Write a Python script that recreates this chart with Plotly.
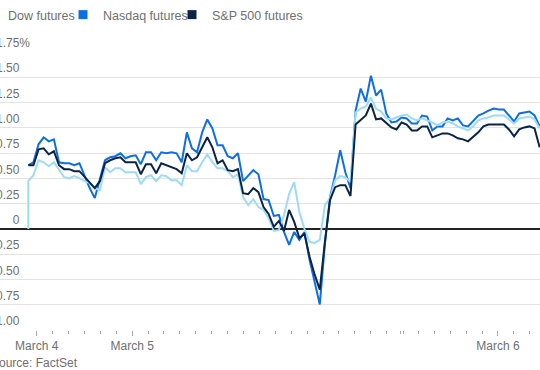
import plotly.graph_objects as go

# ---- data (percent change vs. prior close), time in hours from March 4, 6pm ----
step_h = 0.3216
hours = [round(-0.533 + step_h * i, 4) for i in range(101)]
dow_hours = [hours[0]] + hours  # Dow line opens from its flat 0% reference point

dow = [0.0, 0.472, 0.531, 0.679, 0.659, 0.620, 0.659, 0.581, 0.512, 0.502, 0.522,
       0.502, 0.472, 0.453, 0.404, 0.384, 0.610, 0.561, 0.600, 0.600, 0.561,
       0.561, 0.561, 0.443, 0.512, 0.531, 0.472, 0.531, 0.522, 0.482, 0.482,
       0.433, 0.630, 0.571, 0.571, 0.659, 0.738, 0.659, 0.600, 0.600, 0.571,
       0.512, 0.541, 0.315, 0.236, 0.295, 0.217, 0.187, 0.108, -0.020, -0.010,
       0.138, 0.344, 0.463, 0.167, 0.000, -0.128, -0.138, -0.108, 0.236, 0.305,
       0.482, 0.522, 0.512, 0.463, 1.152, 1.191, 1.211, 1.299, 1.191, 1.161,
       1.093, 1.083, 1.102, 1.122, 1.132, 1.093, 1.073, 1.093, 1.073, 1.053,
       1.024, 1.053, 1.063, 1.043, 1.014, 0.994, 0.974, 1.014, 1.073, 1.093,
       1.102, 1.122, 1.122, 1.122, 1.083, 1.043, 1.093, 1.102, 1.112, 1.083, 0.994]

nasdaq = [0.630, 0.659, 0.837, 0.906, 0.866, 0.886, 0.659, 0.650, 0.650, 0.630,
          0.650, 0.531, 0.404, 0.305, 0.492, 0.679, 0.709, 0.719, 0.748, 0.699,
          0.719, 0.728, 0.640, 0.758, 0.758, 0.679, 0.758, 0.748, 0.758, 0.748,
          0.659, 0.955, 0.797, 0.758, 0.955, 1.083, 0.994, 0.827, 0.827, 0.719,
          0.699, 0.748, 0.472, 0.531, 0.581, 0.541, 0.295, 0.285, 0.128, 0.138,
          -0.030, -0.157, -0.030, -0.108, -0.030, -0.305, -0.541, -0.748, -0.148, 0.315,
          0.531, 0.778, 0.561, 0.404, 1.171, 1.388, 1.260, 1.516, 1.320, 1.378,
          1.142, 1.053, 1.063, 1.102, 1.093, 1.043, 1.043, 1.122, 1.112, 0.974,
          1.014, 1.014, 1.093, 1.073, 1.093, 1.024, 1.014, 1.063, 1.122, 1.142,
          1.171, 1.191, 1.181, 1.181, 1.122, 1.063, 1.142, 1.152, 1.161, 1.122, 1.014]

sp500 = [0.630, 0.630, 0.787, 0.797, 0.738, 0.768, 0.630, 0.591, 0.591, 0.571,
         0.571, 0.512, 0.453, 0.404, 0.472, 0.650, 0.679, 0.699, 0.709, 0.659,
         0.659, 0.659, 0.541, 0.640, 0.640, 0.551, 0.650, 0.630, 0.610, 0.591,
         0.551, 0.748, 0.679, 0.709, 0.807, 0.906, 0.807, 0.650, 0.679, 0.581,
         0.571, 0.591, 0.354, 0.344, 0.404, 0.364, 0.217, 0.148, 0.020, 0.079,
         -0.020, 0.187, 0.069, -0.089, -0.049, -0.276, -0.453, -0.600, -0.128, 0.285,
         0.413, 0.433, 0.433, 0.325, 1.033, 1.073, 1.122, 1.240, 1.083, 1.093,
         1.053, 1.004, 0.984, 1.053, 1.033, 0.974, 0.974, 1.014, 1.014, 0.906,
         0.925, 0.945, 0.945, 0.925, 0.896, 0.886, 0.866, 0.906, 0.955, 1.014,
         1.033, 1.033, 1.033, 1.033, 0.984, 0.915, 0.984, 1.004, 1.014, 0.994, 0.807]

series_names = ["Dow futures", "Nasdaq futures", "S&P 500 futures"]
series_colors = ["#9ddbf8", "#0d6fe3", "#0b2446"]

# x-axis ticks (hours from March 4, 6pm); the 5pm-6pm break is marked by a double tick
date_tick_hours = [0, 6, 29]
date_tick_labels = ["March 4", "March 5", "March 6"]
hour_ticks = [h for h in range(1, 32) if h not in (6, 23, 29)] + [22.9, 23.05]

# y-axis ticks (numbers right-aligned; the % sign hangs past them on the top label)
y_ticks = [-1.0, -0.75, -0.5, -0.25, 0, 0.25, 0.5, 0.75, 1.0, 1.25, 1.5, 1.75]
y_numbers = ["−1.00", "−0.75", "−0.50", "−0.25", "0", "0.25", "0.50", "0.75",
             "1.00", "1.25", "1.50", "1.75"]
HIDDEN_PCT = "<span style='color:rgba(0,0,0,0)'>%</span>"
y_labels = [n + ("%" if v == max(y_ticks) else HIDDEN_PCT)
            for n, v in zip(y_numbers, y_ticks)]

TXT = "#707070"
FONT = "Liberation Sans, Arial, Helvetica, sans-serif"
W, H = 540, 370
ML, MT, MB = 0, 52, 40

fig = go.Figure()

# lines (Nasdaq drawn first, then Dow, then S&P on top)
fig.add_trace(go.Scatter(x=hours, y=nasdaq, mode="lines", showlegend=False,
                         line=dict(color=series_colors[1], width=2)))
fig.add_trace(go.Scatter(x=dow_hours, y=dow, mode="lines", showlegend=False,
                         line=dict(color=series_colors[0], width=2)))
fig.add_trace(go.Scatter(x=hours, y=sp500, mode="lines", showlegend=False,
                         line=dict(color=series_colors[2], width=2)))

# legend entries with square swatches, one legend per entry for exact placement
legend_keys = ["legend", "legend2", "legend3"]
for name, color, key in zip(series_names, series_colors, legend_keys):
    fig.add_trace(go.Scatter(x=[None], y=[None], mode="markers", name=name,
                             legend=key,
                             marker=dict(symbol="square", size=9, color=color)))

plot_h = H - MT - MB
def ypaper(px):
    return (H - MB - px) / plot_h

text_starts = [8, 103, 212]
leg_common = dict(orientation="h", xanchor="left", yanchor="middle",
                  y=ypaper(15), bgcolor="rgba(0,0,0,0)", borderwidth=0,
                  font=dict(family=FONT, size=12.5, color=TXT))

fig.update_layout(
    template="none",
    width=W, height=H,
    margin=dict(l=ML, r=0, t=MT, b=MB, pad=0, autoexpand=False),
    paper_bgcolor="white", plot_bgcolor="white",
    font=dict(family=FONT, size=12, color=TXT),
    legend=dict(x=(text_starts[0] - 40) / W, **leg_common),
    legend2=dict(x=(text_starts[1] - 40) / W, **leg_common),
    legend3=dict(x=(text_starts[2] - 40) / W, **leg_common),
    xaxis=dict(range=[-2.314, 31.648], showgrid=False, zeroline=False,
               showline=False, tickmode="array", tickvals=date_tick_hours,
               ticktext=date_tick_labels, ticks="outside", ticklen=5,
               tickwidth=1, tickcolor="#a8a8a8", automargin=False,
               tickfont=dict(family=FONT, size=12, color=TXT),
               minor=dict(tickmode="array", tickvals=hour_ticks, ticks="outside",
                          ticklen=3, tickwidth=1, tickcolor="#a8a8a8",
                          showgrid=False)),
    yaxis=dict(range=[-1.0, 1.75], tickmode="array", tickvals=y_ticks,
               ticktext=y_labels, showgrid=True, gridcolor="#e3e3e3",
               gridwidth=1, zeroline=True, zerolinecolor="#222222",
               zerolinewidth=1.5, showline=False, ticks="", automargin=False,
               ticklabelstandoff=-31, ticklabelshift=-9,
               tickfont=dict(family=FONT, size=12, color=TXT)),
    annotations=[dict(text="Source: FactSet", xref="paper", yref="paper",
                      x=-11 / W, y=ypaper(363), xanchor="left", yanchor="middle",
                      showarrow=False, font=dict(family=FONT, size=12, color=TXT))],
)

# the page's default 8px body margin would shift the whole chart; remove it
fig.write_html("out.html",
               config={"displayModeBar": False},
               post_script="document.body.style.margin='0';")
